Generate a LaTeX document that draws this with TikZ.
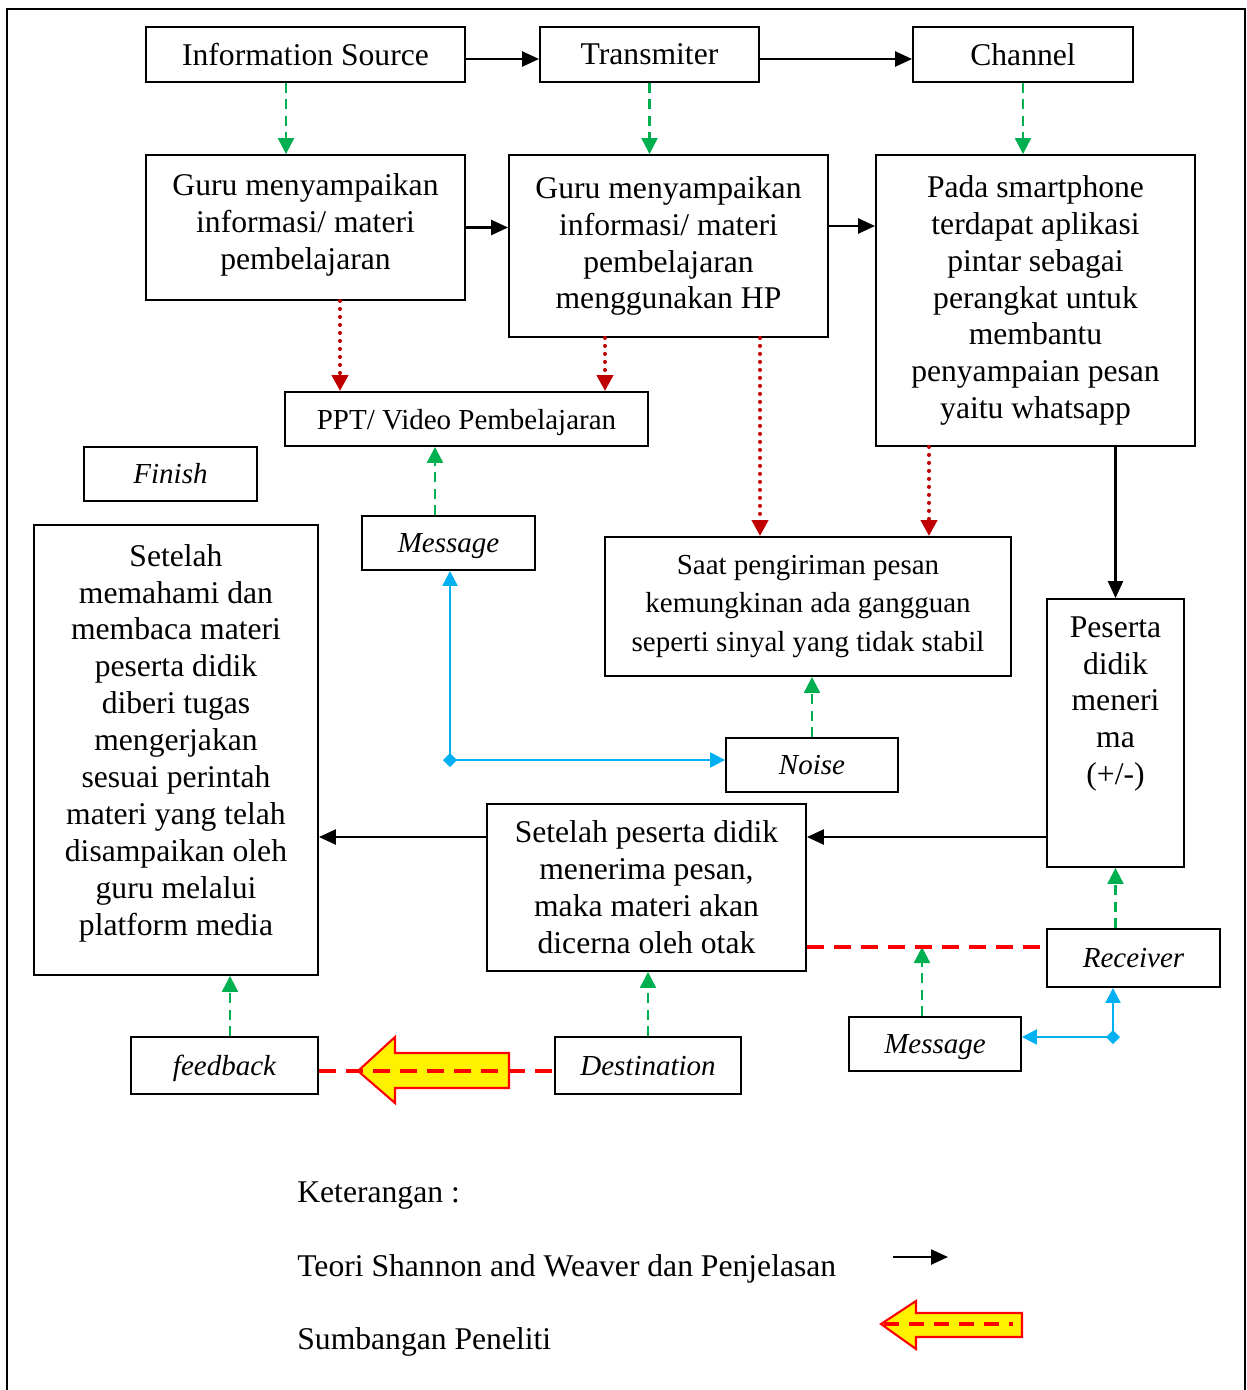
\documentclass[tikz,border=0pt]{standalone}
\usepackage{fontspec}
\setmainfont{Liberation Serif}
\usetikzlibrary{arrows.meta}
\definecolor{hijau}{HTML}{00B050}
\definecolor{biru}{HTML}{00B0F0}
\definecolor{merahtua}{HTML}{C00000}
\begin{document}
\begin{tikzpicture}[x=0.02cm,y=-0.02cm,
	kotak/.style={draw,line width=1.1pt,align=center,inner sep=0pt,font=\fontsize{18}{21}\selectfont},
	kecil/.style={kotak,font=\fontsize{16.5}{22}\selectfont},
	miring/.style={kotak,font=\fontsize{16.5}{20}\selectfont\itshape,text height=15pt,text depth=4pt},
	teks/.style={align=center,inner sep=0pt,font=\fontsize{18}{21}\selectfont},
	panah/.style={line width=1.4pt,-{Triangle[length=0.34cm,width=0.3cm]}},
	hijaudash/.style={hijau,line width=1.3pt,dash pattern=on 0.2cm off 0.13cm,-{Triangle[length=0.32cm,width=0.32cm]}},
	titik/.style={merahtua,line width=2.3pt,line cap=round,dash pattern=on 0pt off 0.16cm,-{Triangle[length=0.32cm,width=0.32cm]}},
	birupanah/.style={biru,line width=1.3pt,-{Triangle[length=0.3cm,width=0.3cm]}},
	merahdash/.style={red,line width=2.2pt,dash pattern=on 0.34cm off 0.2cm},
	blok/.style={fill=yellow,draw=red,line width=1.2pt}]
	\useasboundingbox (0,0) rectangle (1247,1390);
	%bingkai
	\draw [line width=1.1pt] (7,1395)--(7,9)--(1245,9)--(1245,1395);
	%baris atas
	\node [kotak,minimum width=6.38cm,minimum height=1.1cm] (src) at (305.5,54.5) {Information Source};
	\node [kotak,minimum width=4.38cm,minimum height=1.1cm] (trans) at (649.5,54.5) {Transmiter};
	\node [kotak,minimum width=4.4cm,minimum height=1.1cm] (chan) at (1023,54.5) {Channel};
	\node [kotak,minimum width=6.38cm,minimum height=2.9cm] (guru1) at (305.5,227.5) {};
	\node [teks] (guru1teks) at (305.5,224.5) {Guru menyampaikan\\informasi/ materi\\pembelajaran};
	\node [kotak,minimum width=6.38cm,minimum height=3.64cm] (guru2) at (668.5,246)
		{Guru menyampaikan\\informasi/ materi\\pembelajaran\\menggunakan HP};
	\node [kotak,minimum width=6.38cm,minimum height=5.82cm] (pada) at (1035.5,300.5)
		{Pada smartphone\\terdapat aplikasi\\pintar sebagai\\perangkat untuk\\membantu\\penyampaian pesan\\yaitu whatsapp};
	\node [kecil,minimum width=7.26cm,minimum height=1.08cm,text height=16pt,text depth=3.7pt] (ppt) at (466.5,419) {PPT/ Video Pembelajaran};
	\node [miring,minimum width=3.46cm,minimum height=1.08cm] (finish) at (170.5,474) {Finish};
	\node [miring,minimum width=3.46cm,minimum height=1.08cm] (msg1) at (448.5,543) {Message};
	\node [kecil,minimum width=8.12cm,minimum height=2.78cm] (saat) at (808,606.5)
		{Saat pengiriman pesan\\kemungkinan ada gangguan\\seperti sinyal yang tidak stabil};
	\node [kotak,minimum width=5.68cm,minimum height=9cm] (stlh) at (176,750) {};
	\node [teks] (stlhteks) at (176,743) {Setelah\\memahami dan\\membaca materi\\peserta didik\\diberi tugas\\mengerjakan\\sesuai perintah\\materi yang telah\\disampaikan oleh\\guru melalui\\platform media};
	\node [miring,minimum width=3.44cm,minimum height=1.08cm] (noise) at (812,765) {Noise};
	\node [kotak,minimum width=2.74cm,minimum height=5.36cm] (peserta) at (1115.5,733) {};
	\node [teks] (pesertateks) at (1115.5,704) {Peserta\\didik\\meneri\\ma\\(+/-)};
	\node [kotak,minimum width=6.38cm,minimum height=3.34cm] (proses) at (646.5,887.5)
		{Setelah peserta didik\\menerima pesan,\\maka materi akan\\dicerna oleh otak};
	\node [miring,minimum width=3.46cm,minimum height=1.16cm] (recv) at (1133.5,958) {Receiver};
	\node [miring,minimum width=3.44cm,minimum height=1.08cm] (msg2) at (935,1044) {Message};
	\node [miring,minimum width=3.74cm,minimum height=1.14cm] (fb) at (224.5,1065.5) {feedback};
	\node [miring,minimum width=3.72cm,minimum height=1.14cm] (dest) at (648,1065.5) {Destination};
	%titik bantu
	\path (src.east) ++(0,4.5) coordinate (se)
		(guru2.east) ++(0,-20) coordinate (g2e)
		(proses.west) ++(0,-50.5) coordinate (pw)
		(proses.east) ++(0,59.5) coordinate (rdl)
		(fb.east) ++(0,5.5) coordinate (fbe)
		(src.south) ++(-19.5,0) coordinate (s1)
		(msg1.north) ++(-13.5,0) coordinate (m1)
		(msg2.north) ++(-13,0) coordinate (m2)
		(fb.north) ++(5.5,0) coordinate (f1)
		(guru1.south) ++(34.5,0) coordinate (d1)
		(guru2.south) ++(-63.5,0) coordinate (d2)
		(guru2.south) ++(91.5,0) coordinate (d3)
		(pada.south) ++(-106.5,0) coordinate (d4)
		(450,760) coordinate (bj1)
		(1113,1037) coordinate (bj2);
	%panah hitam
	\draw [panah] (se) -- (se -| trans.west);
	\draw [panah] (se -| trans.east) -- (se -| chan.west);
	\draw [panah] (guru1.east) -- (guru1.east -| guru2.west);
	\draw [panah] (g2e) -- (g2e -| pada.west);
	\draw [panah] (peserta.north |- pada.south) -- (peserta.north);
	\draw [panah] (pw -| peserta.west) -- (pw -| proses.east);
	\draw [panah] (pw) -- (pw -| stlh.east);
	%panah hijau
	\draw [hijaudash] (s1) -- (s1 |- guru1.north);
	\draw [hijaudash] (trans.south) -- (trans.south |- guru2.north);
	\draw [hijaudash] (chan.south) -- (chan.south |- pada.north);
	\draw [hijaudash] (m1) -- (m1 |- ppt.south);
	\draw [hijaudash] (noise.north) -- (noise.north |- saat.south);
	\draw [hijaudash] (peserta.south |- recv.north) -- (peserta.south);
	\draw [hijaudash] (m2) -- (m2 |- rdl);
	\draw [hijaudash] (dest.north) -- (dest.north |- proses.south);
	\draw [hijaudash] (f1) -- (f1 |- stlh.south);
	%panah titik merah
	\draw [titik] (d1) -- (d1 |- ppt.north);
	\draw [titik] (d2) -- (d2 |- ppt.north);
	\draw [titik] (d3) -- (d3 |- saat.north);
	\draw [titik] (d4) -- (d4 |- saat.north);
	%panah biru
	\draw [birupanah] (bj1) -- (bj1 |- msg1.south);
	\draw [birupanah] (bj1) -- (bj1 -| noise.west);
	\fill [biru] (bj1) +(-7,0) -- +(0,-7) -- +(7,0) -- +(0,7) -- cycle;
	\draw [birupanah] (bj2) -- (bj2 |- recv.south);
	\draw [birupanah] (bj2) -- (bj2 -| msg2.east);
	\fill [biru] (bj2) +(-7,0) -- +(0,-7) -- +(7,0) -- +(0,7) -- cycle;
	%garis merah dan sumbangan peneliti
	\draw [merahdash] (rdl) -- (rdl -| recv.west);
	\draw [blok] (358,1071) -- (395,1037) -- (395,1053) -- (509,1053) -- (509,1088)
		-- (395,1088) -- (395,1103) -- cycle;
	\draw [merahdash] (fbe) -- (fbe -| dest.west);
	%keterangan
	\node [anchor=west,teks] (ket) at (297,1196) {Keterangan :};
	\node [anchor=west,teks] (teori) at (297,1269) {Teori Shannon and Weaver dan Penjelasan};
	\node [anchor=west,teks] (sumb) at (297,1342) {Sumbangan Peneliti};
	\coordinate (k1) at (893,1257);
	\coordinate (k2) at (948,1257);
	\draw [panah] (k1) -- (k2);
	\draw [blok] (881,1324) -- (916,1301) -- (916,1313) -- (1022,1313) -- (1022,1337)
		-- (916,1337) -- (916,1349) -- cycle;
	\draw [merahdash,line width=2pt,dash pattern=on 0.3cm off 0.2cm] (884,1324) -- (1013,1324);
\end{tikzpicture}
\end{document}
